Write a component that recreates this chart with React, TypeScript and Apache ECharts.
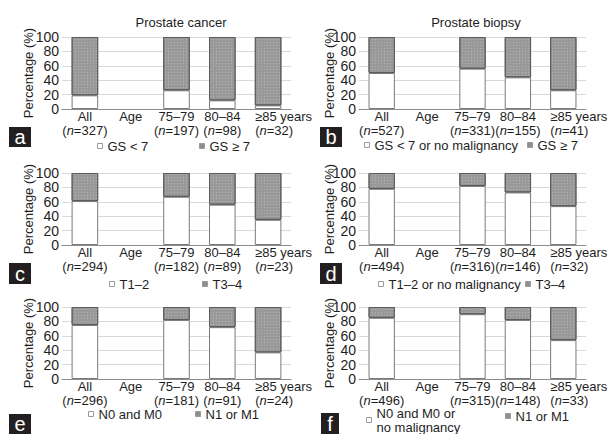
import React, { useEffect, useRef } from "react";
import * as echarts from "echarts";

const FONT = "'Liberation Sans', Arial, sans-serif";

const categories = ["All", "Age", "75–79", "80–84", "≥85 years"];

// Panel a: Prostate cancer, Gleason score
const aWhite = [19, null, 26, 12, 5];
const aGray = [81, null, 74, 88, 95];
const aN = [327, null, 197, 98, 32];
const aLegend = ["GS < 7", "GS ≥ 7"];

// Panel b: Prostate biopsy, Gleason score
const bWhite = [50, null, 56, 44, 26];
const bGray = [50, null, 44, 56, 74];
const bN = [527, null, 331, 155, 41];
const bLegend = ["GS < 7 or no malignancy", "GS ≥ 7"];

// Panel c: Prostate cancer, T stage
const cWhite = [61, null, 67, 56, 35];
const cGray = [39, null, 33, 44, 65];
const cN = [294, null, 182, 89, 23];
const cLegend = ["T1–2", "T3–4"];

// Panel d: Prostate biopsy, T stage
const dWhite = [78, null, 82, 73, 54];
const dGray = [22, null, 18, 27, 46];
const dN = [494, null, 316, 146, 32];
const dLegend = ["T1–2 or no malignancy", "T3–4"];

// Panel e: Prostate cancer, N/M stage
const eWhite = [75, null, 82, 72, 37];
const eGray = [25, null, 18, 28, 63];
const eN = [296, null, 181, 91, 24];
const eLegend = ["N0 and M0", "N1 or M1"];

// Panel f: Prostate biopsy, N/M stage
const fWhite = [85, null, 90, 82, 54];
const fGray = [15, null, 10, 18, 46];
const fN = [496, null, 315, 148, 33];
const fLegend = ["N0 and M0 or\nno malignancy", "N1 or M1"];

const yTicks = [0, 20, 40, 60, 80, 100];
const yName = "Percentage (%)";

const TEXT = "#1e1e1e";
const WHITE_STYLE = { color: "#ffffff", borderColor: "#7a7a7a", borderWidth: 1 };
const GRAY_STYLE = {
  color: "#999999",
  borderColor: "#5c5c5c",
  borderWidth: 1,
  decal: {
    symbol: "rect",
    symbolSize: 1,
    color: "rgba(255,255,255,0.25)",
    dashArrayX: [1, 2],
    dashArrayY: [1, 2],
    rotation: 0,
  },
};

type Panel = {
  white: (number | null)[];
  gray: (number | null)[];
  ns: (number | null)[];
  legend: string[];
  grid: { left: number; top: number; width: number; height: number };
  legendPos: { left: number; cy: number }[];
  nameX: number;
  letter: string;
  box: { x: number; y: number; w: number; h: number };
};

const panels: Panel[] = [
  {
    white: aWhite, gray: aGray, ns: aN, legend: aLegend,
    grid: { left: 62, top: 37, width: 229, height: 72 },
    legendPos: [{ left: 97, cy: 146 }, { left: 199, cy: 146 }],
    nameX: 28,
    letter: "a", box: { x: 9, y: 127, w: 22, h: 20 },
  },
  {
    white: bWhite, gray: bGray, ns: bN, legend: bLegend,
    grid: { left: 359, top: 37, width: 227, height: 72 },
    legendPos: [{ left: 364, cy: 145 }, { left: 527, cy: 145 }],
    nameX: 329,
    letter: "b", box: { x: 320, y: 127, w: 22, h: 20 },
  },
  {
    white: cWhite, gray: cGray, ns: cN, legend: cLegend,
    grid: { left: 62, top: 173, width: 229, height: 72 },
    legendPos: [{ left: 109, cy: 284 }, { left: 202, cy: 284 }],
    nameX: 28,
    letter: "c", box: { x: 9, y: 263, w: 22, h: 21 },
  },
  {
    white: dWhite, gray: dGray, ns: dN, legend: dLegend,
    grid: { left: 359, top: 173, width: 227, height: 72 },
    legendPos: [{ left: 378, cy: 284 }, { left: 525, cy: 284 }],
    nameX: 329,
    letter: "d", box: { x: 320, y: 263, w: 22, h: 21 },
  },
  {
    white: eWhite, gray: eGray, ns: eN, legend: eLegend,
    grid: { left: 62, top: 307, width: 229, height: 72 },
    legendPos: [{ left: 88, cy: 414 }, { left: 195, cy: 414 }],
    nameX: 28,
    letter: "e", box: { x: 9, y: 414, w: 22, h: 20 },
  },
  {
    white: fWhite, gray: fGray, ns: fN, legend: fLegend,
    grid: { left: 359, top: 307, width: 227, height: 72 },
    legendPos: [{ left: 366, cy: 420 }, { left: 505, cy: 416 }],
    nameX: 329,
    letter: "f", box: { x: 321, y: 413, w: 18, h: 21 },
  },
];

const titles = [
  { text: "Prostate cancer", x: 181, y: 22 },
  { text: "Prostate biopsy", x: 476, y: 22 },
];

const tok = { fontSize: 13, lineHeight: 14, fontFamily: FONT, color: TEXT };

function buildOption() {
  const grid: any[] = [];
  const xAxis: any[] = [];
  const yAxis: any[] = [];
  const series: any[] = [];
  const legend: any[] = [];
  const graphic: any[] = [];

  panels.forEach((p, i) => {
    grid.push({ ...p.grid, containLabel: false });
    xAxis.push({
      type: "category",
      gridIndex: i,
      data: categories,
      axisTick: { show: false },
      axisLine: { lineStyle: { color: "#8c8c8c", width: 1 } },
      axisLabel: {
        interval: 0,
        margin: 0,
        color: TEXT,
        fontFamily: FONT,
        fontSize: 13,
        formatter: (v: string, j: number) => {
          const n = p.ns[j];
          if (n === null || n === undefined) return `{t|${v}}`;
          if (j === categories.length - 1)
            return `{tl|${v}}\n{pl|(}{i|n}{t|=${n})}`;
          return `{t|${v}}\n{t|(}{i|n}{t|=${n})}`;
        },
        rich: {
          t: { ...tok },
          i: { ...tok, fontStyle: "italic" },
          tl: { ...tok, padding: [0, 0, 0, 31] },
          pl: { ...tok, padding: [0, 0, 0, 12] },
        },
      },
    });
    yAxis.push({
      type: "value",
      gridIndex: i,
      min: yTicks[0],
      max: yTicks[yTicks.length - 1],
      interval: yTicks[1] - yTicks[0],
      axisLine: { show: false },
      axisTick: { show: false },
      axisLabel: { fontSize: 14, fontFamily: FONT, color: TEXT, margin: 3 },
      splitLine: { lineStyle: { color: "#d9d9d9", width: 1 } },
    });
    series.push({
      type: "bar",
      name: p.legend[0],
      xAxisIndex: i,
      yAxisIndex: i,
      stack: "s" + i,
      barWidth: "58%",
      data: p.white,
      itemStyle: WHITE_STYLE,
    });
    series.push({
      type: "bar",
      name: p.legend[1],
      xAxisIndex: i,
      yAxisIndex: i,
      stack: "s" + i,
      barWidth: "58%",
      data: p.gray,
      itemStyle: GRAY_STYLE,
    });
    p.legend.forEach((name, k) => {
      const pos = p.legendPos[k];
      const lines = name.split("\n").length;
      const lh = 14;
      const h = lines * lh;
      legend.push({
        data: [
          {
            name,
            itemStyle: k === 0
              ? { color: "#ffffff", borderColor: "#9a9a9a", borderWidth: 1 }
              : { color: "#8f8f8f", borderColor: "#9a9a9a", borderWidth: 1, decal: "none" },
          },
        ],
        left: pos.left,
        top: pos.cy - h / 2,
        padding: 0,
        icon: "rect",
        itemWidth: 5,
        itemHeight: 5,
        selectedMode: false,
        textStyle: { fontSize: 13, fontFamily: FONT, color: TEXT, lineHeight: lh },
      });
    });
    // y-axis title, rotated
    graphic.push({
      type: "text",
      x: p.nameX,
      y: p.grid.top + p.grid.height / 2,
      rotation: Math.PI / 2,
      style: {
        text: yName,
        fill: TEXT,
        fontSize: 13,
        fontFamily: FONT,
        align: "center",
        verticalAlign: "middle",
      },
    });
    graphic.push({
      type: "rect",
      shape: { x: p.box.x, y: p.box.y, width: p.box.w, height: p.box.h },
      style: { fill: "#231f20" },
    });
    graphic.push({
      type: "text",
      x: p.box.x + p.box.w / 2,
      y: p.box.y + p.box.h / 2,
      style: {
        text: p.letter,
        fill: "#ffffff",
        fontSize: 20,
        fontFamily: FONT,
        align: "center",
        verticalAlign: "middle",
      },
    });
  });

  titles.forEach((t) => {
    graphic.push({
      type: "text",
      x: t.x,
      y: t.y,
      style: {
        text: t.text,
        fill: TEXT,
        fontSize: 13,
        fontFamily: FONT,
        align: "center",
        verticalAlign: "middle",
      },
    });
  });

  return {
    animation: false,
    backgroundColor: "#ffffff",
    aria: { enabled: false, decal: { show: false } },
    grid,
    xAxis,
    yAxis,
    series,
    legend,
    graphic,
  };
}

export default function App() {
  const ref = useRef<HTMLDivElement>(null);
  useEffect(() => {
    if (!ref.current) return;
    const chart = echarts.init(ref.current, undefined, { renderer: "svg" });
    chart.setOption(buildOption() as any);
    return () => chart.dispose();
  }, []);
  return (
    <div
      ref={ref}
      style={{ position: "fixed", left: 0, top: 0, width: 612, height: 434, background: "#fff" }}
    />
  );
}
